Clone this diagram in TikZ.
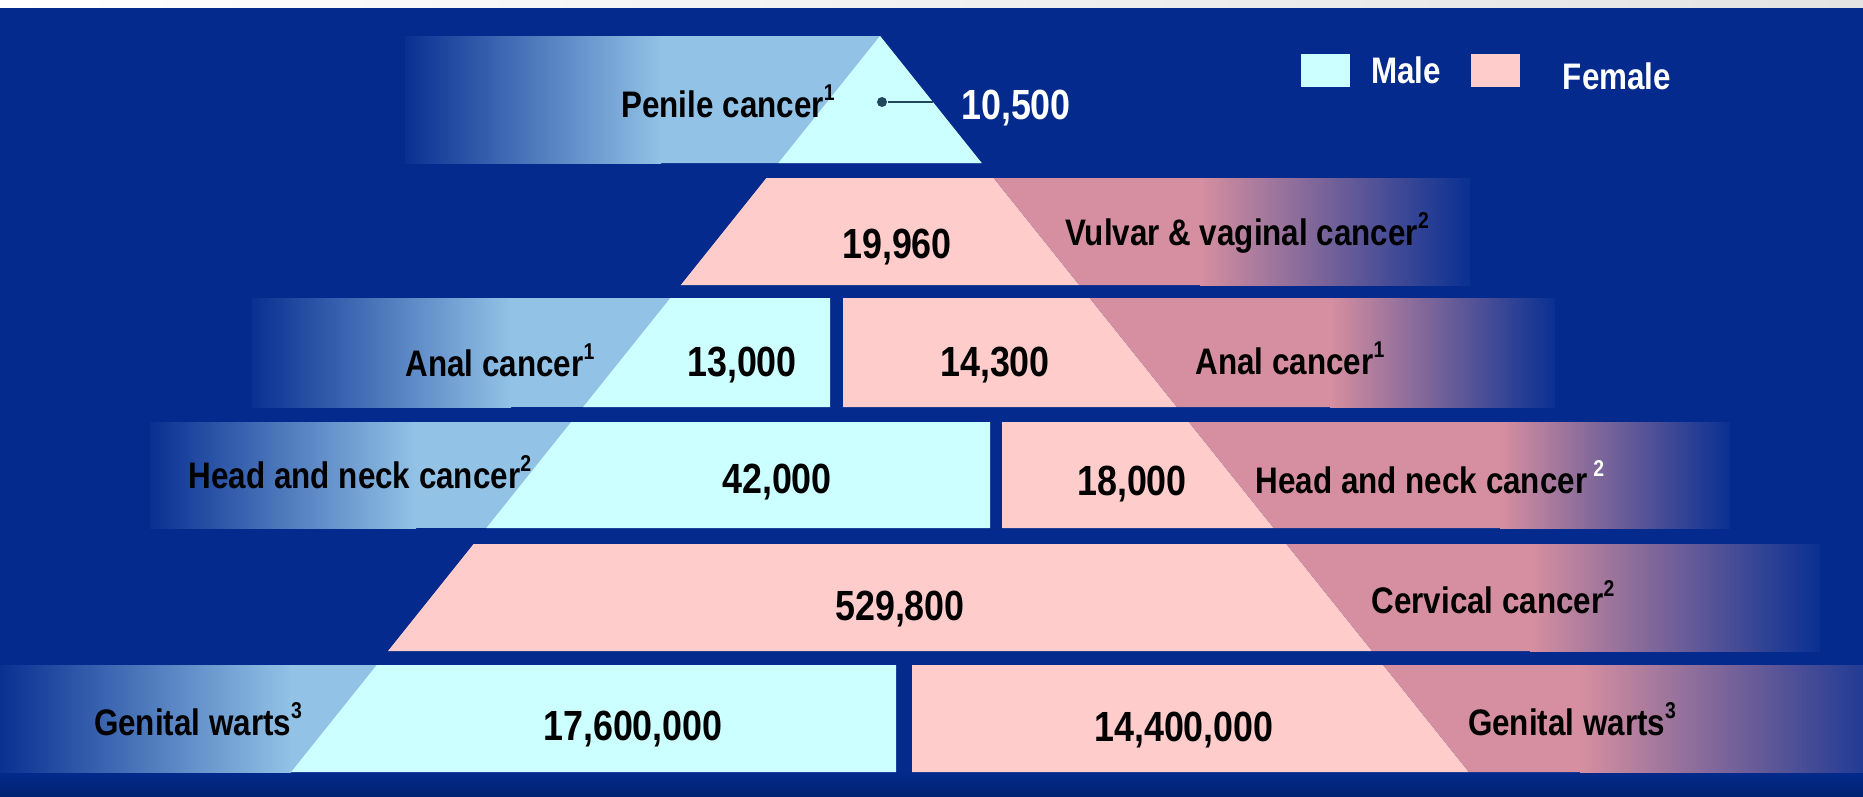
\documentclass[tikz,border=0pt]{standalone}
\usepackage{fontspec}
\setmainfont{Liberation Sans}[FakeStretch=0.85]
\definecolor{bgblue}{RGB}{3,42,140}
\definecolor{bgdark}{RGB}{0,33,112}
\definecolor{fadeBlue}{RGB}{9,48,146}
\definecolor{paleCyan}{RGB}{204,255,255}
\definecolor{midBlue}{RGB}{146,194,230}
\definecolor{palePink}{RGB}{255,204,204}
\definecolor{midPink}{RGB}{214,143,160}
\definecolor{dotcol}{RGB}{35,70,95}
\newcommand{\supnum}[1]{\raisebox{0.85ex}{\fontsize{6.5}{7}\selectfont #1}}
\begin{document}
\begin{tikzpicture}[x=0.01cm,y=-0.01cm,
  lbl/.style={font=\fontsize{10.5}{12}\selectfont\bfseries,text=black,inner sep=0pt,anchor=base},
  num/.style={font=\fontsize{12}{14}\selectfont\bfseries,text=black,inner sep=0pt,anchor=base},
  leg/.style={font=\fontsize{10.5}{12}\selectfont\bfseries,text=white,inner sep=0pt,anchor=base},
  keybox/.style={inner sep=0pt,minimum width=0.49cm,minimum height=0.33cm}]
\useasboundingbox (0,0) rectangle (1863,797);
% background
\fill[bgblue] (0,0) rectangle (1863,797);
\shade[left color=white,right color=gray!22] (0,0) rectangle (1863,7);
\shade[top color=bgblue,bottom color=bgdark] (0,772) rectangle (1863,797);

% Row 1: penile (male)
\shade[left color=fadeBlue,right color=midBlue] (405,36) rectangle (661,163);
\fill[midBlue] (660,36) -- (880,36) -- (981.6,163) -- (660,163) -- cycle;
\fill[paleCyan] (880,36) -- (981.6,163) -- (778.4,163) -- cycle;

% Row 2: vulvar (female)
\fill[palePink] (766.4,178) -- (993.6,178) -- (1079.2,285) -- (680.8,285) -- cycle;
\fill[midPink] (993.6,178) -- (1201,178) -- (1201,285) -- (1079.2,285) -- cycle;
\shade[left color=midPink,right color=fadeBlue] (1200,178) rectangle (1470,285);

% Row 3: anal
\shade[left color=fadeBlue,right color=midBlue] (252,298) rectangle (511,407);
\fill[midBlue] (510,298) rectangle (830,407);
\fill[paleCyan] (670.4,298) -- (830,298) -- (830,407) -- (583.2,407) -- cycle;
\fill[palePink] (843,298) -- (1089.6,298) -- (1176.8,407) -- (843,407) -- cycle;
\fill[midPink] (1089.6,298) -- (1331,298) -- (1331,407) -- (1176.8,407) -- cycle;
\shade[left color=midPink,right color=fadeBlue] (1330,298) rectangle (1555,407);

% Row 4: head and neck
\shade[left color=fadeBlue,right color=midBlue] (150,422) rectangle (416,528);
\fill[midBlue] (415,422) rectangle (990,528);
\fill[paleCyan] (571.2,422) -- (990,422) -- (990,528) -- (486.4,528) -- cycle;
\fill[palePink] (1002,422) -- (1188.8,422) -- (1273.6,528) -- (1002,528) -- cycle;
\fill[midPink] (1188.8,422) -- (1501,422) -- (1501,528) -- (1273.6,528) -- cycle;
\shade[left color=midPink,right color=fadeBlue] (1500,422) rectangle (1730,528);

% Row 5: cervical
\fill[palePink] (473.6,544) -- (1286.4,544) -- (1372,651) -- (388,651) -- cycle;
\fill[midPink] (1286.4,544) -- (1531,544) -- (1531,651) -- (1372,651) -- cycle;
\shade[left color=midPink,right color=fadeBlue] (1530,544) rectangle (1820,651);

% Row 6: genital warts
\shade[left color=fadeBlue,right color=midBlue] (0,665) rectangle (291,772);
\fill[midBlue] (290,665) rectangle (896,772);
\fill[paleCyan] (376.8,665) -- (896,665) -- (896,772) -- (291.2,772) -- cycle;
\fill[palePink] (912,665) -- (1383.2,665) -- (1468.8,772) -- (912,772) -- cycle;
\fill[midPink] (1383.2,665) -- (1581,665) -- (1581,772) -- (1468.8,772) -- cycle;
\shade[left color=midPink,right color=fadeBlue!88!midPink] (1580,665) rectangle (1863,772);

% legend
\node[keybox,fill=paleCyan] (kmale) at (1325.5,70.5) {};
\node[keybox,fill=palePink] (kfemale) at (1495.5,70.5) {};
\node[leg] (tmale) at (1406,83) {Male};
\node[leg] (tfemale) at (1617,90) {Female};

% labels and numbers
\node[lbl] (l1) at (728,117) {Penile cancer\supnum{1}};
\node[circle,fill=dotcol,inner sep=0pt,minimum size=0.1cm] (pdot) at (882,102) {};
\coordinate (pend) at (932.8,102);
\draw[dotcol,line width=0.8pt] (pdot) -- (pend);
\node[num,text=white] (n1) at (1016,120) {10,500};

\node[num] (n2) at (897,258) {19,960};
\node[lbl] (l2) at (1247,245) {Vulvar \& vaginal cancer\supnum{2}};

\node[lbl] (l3m) at (500,376) {Anal cancer\supnum{1}};
\node[num] (n3m) at (742,376) {13,000};
\node[num] (n3f) at (995,376) {14,300};
\node[lbl] (l3f) at (1290,374) {Anal cancer\supnum{1}};

\node[lbl] (l4m) at (360,488) {Head and neck cancer\supnum{2}};
\node[num] (n4m) at (777,493) {42,000};
\node[num] (n4f) at (1132,495) {18,000};
\node[lbl] (l4f) at (1430,493) {Head and neck cancer\,\supnum{\color{white}2}};

\node[num] (n5) at (900,620) {529,800};
\node[lbl] (l5) at (1493,613) {Cervical cancer\supnum{2}};

\node[lbl] (l6m) at (198,735) {Genital warts\supnum{3}};
\node[num] (n6m) at (633,740) {17,600,000};
\node[num] (n6f) at (1184,741) {14,400,000};
\node[lbl] (l6f) at (1572,735) {Genital warts\supnum{3}};
\end{tikzpicture}
\end{document}
